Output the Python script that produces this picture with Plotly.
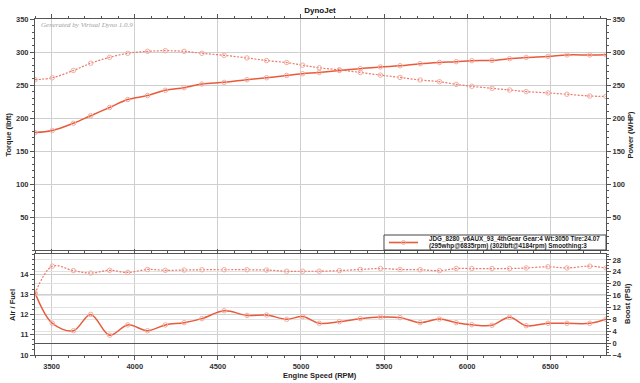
import plotly.graph_objects as go

rpm = [3400, 3504, 3631, 3735, 3849, 3958, 4077, 4184, 4297, 4404, 4538, 4675, 4793, 4914,
       5010, 5110, 5231, 5357, 5478, 5596, 5717, 5833, 5934, 6028, 6149, 6255, 6355, 6486,
       6600, 6737, 6835]
torque = [258, 261, 272, 283, 292, 298, 301, 302, 301, 298, 295, 291, 287, 284,
          280, 276, 273, 269, 265, 261.5, 257.6, 255, 251, 248, 245, 242.4, 240, 238,
          236, 233.3, 232.7]
power = [178, 181, 192, 203.5, 216, 228, 234, 242, 246, 251.5, 254, 258, 261, 264.5,
         267, 269, 272, 274.7, 277.3, 279.2, 282.3, 284.2, 285.3, 286.8, 287.3, 289.8, 291.8, 293.3,
         295.5, 295.5, 295.9]
afr = [13.08, 11.57, 11.2, 12.01, 10.98, 11.49, 11.2, 11.49, 11.6, 11.8, 12.19, 11.96, 11.98, 11.77,
       11.9, 11.57, 11.65, 11.8, 11.88, 11.85, 11.6, 11.78, 11.6, 11.5, 11.47, 11.87, 11.45, 11.57,
       11.57, 11.57, 11.77]
boost = [16.6, 25.9, 24.4, 23.6, 24.5, 23.8, 24.8, 24.5, 24.6, 24.7, 24.7, 24.7, 24.6, 24.2,
         24.2, 24.2, 24.4, 24.8, 25.1, 24.8, 24.7, 24.4, 25.1, 25.1, 25.1, 25.1, 25.3, 25.7,
         25.3, 25.9, 25.3]

legend_lines = ["JDG_8280_v6AUX_93_4thGear Gear:4 Wt:3050 Tire:24.07",
                "(295whp@6835rpm) (302lbft@4184rpm) Smoothing:3"]

W, H = 640, 383
ML, MR, MT, MB = 35, 34, 19, 28
PW, PH = W - ML - MR, H - MT - MB

def px(xp):
    return (xp - ML) / PW

def py(yp):
    return (H - MB - yp) / PH

SOLID = "#E85B3A"
DOT = "#EC7868"
MK = dict(symbol="circle-open", size=4.5, color="#F3ADA2", line=dict(width=1))
FONT = "Liberation Sans, Arial, sans-serif"
GRID = "#cfcfcf"
AX = "#555555"
DASH = "2px,1.5px"

fig = go.Figure()
fig.add_trace(go.Scatter(x=rpm, y=torque, mode="lines+markers", line=dict(color=DOT, width=1.2, dash=DASH, shape="spline"),
                         marker=MK, xaxis="x", yaxis="y", showlegend=False))
fig.add_trace(go.Scatter(x=rpm, y=power, mode="lines+markers", line=dict(color=SOLID, width=1.5, shape="spline"),
                         marker=MK, xaxis="x", yaxis="y2", showlegend=False))
fig.add_trace(go.Scatter(x=rpm, y=boost, mode="lines+markers", line=dict(color=DOT, width=1.2, dash=DASH, shape="spline"),
                         marker=MK, xaxis="x2", yaxis="y4", showlegend=False))
fig.add_trace(go.Scatter(x=rpm, y=afr, mode="lines+markers", line=dict(color=SOLID, width=1.5, shape="spline"),
                         marker=MK, xaxis="x2", yaxis="y3", showlegend=False))

tickf = dict(family=FONT, size=7.5, color="#333", weight="bold")
titf = dict(family=FONT, size=7.5, color="#222", weight="bold")
top_dom = [py(250), 1.0]
bot_dom = [0.0, py(254)]

xcommon = dict(range=[3400, 6835], dtick=500, tick0=3500, showgrid=True, gridcolor=GRID, gridwidth=1,
               showline=True, linecolor=AX, linewidth=1, mirror="ticks", ticks="outside", ticklen=4,
               tickcolor=AX, minor=dict(dtick=100, ticks="outside", ticklen=2, tickcolor=AX, showgrid=False),
               zeroline=False, tickfont=tickf, automargin=False)

yc = dict(showline=True, linecolor=AX, ticks="outside", ticklen=4, tickcolor=AX, zeroline=False,
          tickfont=tickf, automargin=False)

fig.update_layout(
    width=W, height=H,
    margin=dict(l=ML, r=MR, t=MT, b=MB, autoexpand=False),
    paper_bgcolor="white", plot_bgcolor="white",
    title=dict(text="<b>DynoJet</b>", x=0.5, xanchor="center", y=1 - 10 / H, yanchor="middle",
               font=dict(family=FONT, size=8, color="#111")),
    xaxis=dict(**xcommon, domain=[0, 1], anchor="y", showticklabels=False),
    xaxis2=dict(**xcommon, domain=[0, 1], anchor="y3", matches="x"),
    yaxis=dict(**yc, domain=top_dom, range=[0, 350], showgrid=True, gridcolor=GRID,
               minor=dict(dtick=10, ticks="outside", ticklen=2, tickcolor=AX),
               tickvals=[50, 100, 150, 200, 250, 300, 350]),
    yaxis2=dict(**yc, domain=top_dom, range=[0, 350], overlaying="y", side="right", anchor="x",
                showgrid=False, minor=dict(dtick=10, ticks="outside", ticklen=2, tickcolor=AX),
                tickvals=[50, 100, 150, 200, 250, 300, 350]),
    yaxis3=dict(**yc, domain=bot_dom, range=[10, 15], showgrid=True, gridcolor=GRID,
                minor=dict(dtick=0.25, ticks="outside", ticklen=2, tickcolor=AX),
                tickvals=[10, 11, 12, 13, 14], anchor="x2"),
    yaxis4=dict(showline=True, linecolor=AX, ticks="outside", ticklen=4, tickcolor=AX, tickfont=tickf,
                automargin=False, domain=bot_dom, range=[-4, 30], overlaying="y3", side="right", anchor="x2",
                tickvals=[-4, 0, 4, 8, 12, 16, 20, 24, 28], showgrid=True, gridcolor="#e2e2e2",
                minor=dict(dtick=1, ticks="outside", ticklen=2, tickcolor=AX),
                zeroline=True, zerolinecolor="#555", zerolinewidth=1),
)

# legend box (drawn manually to match the compact original)
fig.add_shape(type="rect", xref="paper", yref="paper", x0=px(384), x1=1.0, y0=py(250), y1=py(235),
              line=dict(color="#444", width=1), fillcolor="white", layer="above")
fig.add_shape(type="line", xref="paper", yref="paper", x0=px(389), x1=px(418), y0=py(242.5), y1=py(242.5),
              line=dict(color=SOLID, width=1.6), layer="above")
fig.add_shape(type="circle", xref="paper", yref="paper", x0=px(401.5), x1=px(405.5), y0=py(244.5), y1=py(240.5),
              line=dict(color="#F3ADA2", width=1), layer="above")

ann = []
for i, t in enumerate(legend_lines):
    ann.append(dict(text=t, xref="paper", yref="paper", x=px(427), y=py(238.8 + 7.6 * i), xanchor="left",
                    yanchor="middle", showarrow=False, font=dict(family=FONT, size=6.3, color="#222", weight="bold")))
ann += [
    dict(text="<i>Generated by Virtual Dyno 1.0.9</i>", xref="paper", yref="paper",
         x=px(39), y=py(25), xanchor="left", yanchor="middle", showarrow=False,
         font=dict(family="Liberation Serif, serif", size=7, color="#a0a0a0")),
    dict(text="Torque (lbft)", xref="paper", yref="paper", x=px(8), y=py(134.5), textangle=-90,
         xanchor="center", yanchor="middle", showarrow=False, font=titf),
    dict(text="Power (WHP)", xref="paper", yref="paper", x=px(630), y=py(134.5), textangle=-90,
         xanchor="center", yanchor="middle", showarrow=False, font=titf),
    dict(text="Air / Fuel", xref="paper", yref="paper", x=px(12), y=py(305), textangle=-90,
         xanchor="center", yanchor="middle", showarrow=False, font=titf),
    dict(text="Boost (PSI)", xref="paper", yref="paper", x=px(627), y=py(303), textangle=-90,
         xanchor="center", yanchor="middle", showarrow=False, font=titf),
    dict(text="Engine Speed (RPM)", xref="paper", yref="paper", x=px(320), y=py(375),
         xanchor="center", yanchor="middle", showarrow=False, font=titf),
]
fig.update_layout(annotations=ann)

fig.write_html("out.html", config={"displayModeBar": False},
               post_script="document.body.style.margin='0';document.body.style.overflow='hidden';")
